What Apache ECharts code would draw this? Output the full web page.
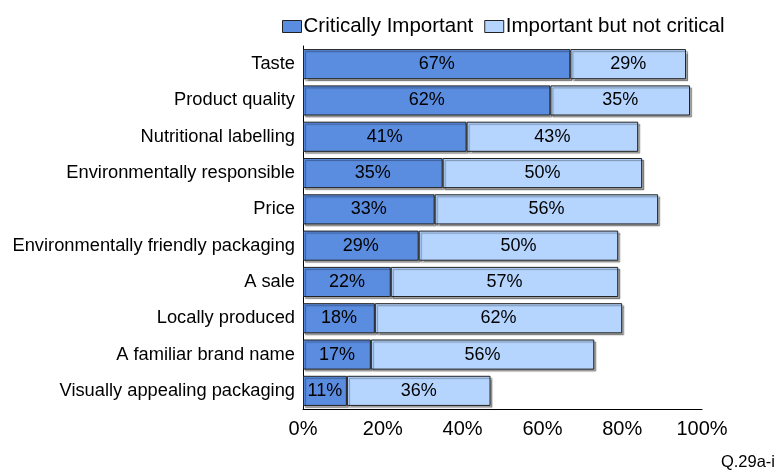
<!DOCTYPE html>
<html>
<head>
<meta charset="utf-8">
<script src="https://cdn.jsdelivr.net/npm/echarts@6/dist/echarts.min.js"></script>
<style>
  html, body { margin: 0; padding: 0; background: #fff; }
  #chart { width: 778px; height: 476px; }
</style>
</head>
<body>
<div id="chart"></div>
<script>
// Purchase factors, listed top to bottom
const categories = [
  'Taste',
  'Product quality',
  'Nutritional labelling',
  'Environmentally responsible',
  'Price',
  'Environmentally friendly packaging',
  'A sale',
  'Locally produced',
  'A familiar brand name',
  'Visually appealing packaging'
];
const criticallyImportant = [67, 62, 41, 35, 33, 29, 22, 18, 17, 11];
const importantNotCritical = [29, 35, 43, 50, 56, 50, 57, 62, 56, 36];
const seriesNames = ['Critically Important', 'Important but not critical'];
const footnote = 'Q.29a-i';

const font = 'Liberation Sans, Arial, sans-serif';
const chart = echarts.init(document.getElementById('chart'));

const barStyle = (color) => ({
  color: color,
  borderColor: '#222',
  borderWidth: 1,
  shadowColor: 'rgba(0,0,0,0.35)',
  shadowOffsetX: 2,
  shadowOffsetY: 2,
  shadowBlur: 1
});

const labelStyle = {
  show: true,
  position: 'inside',
  formatter: (p) => p.value + '%',
  color: '#000',
  fontFamily: font,
  fontSize: 18
};

chart.setOption({
  animation: false,
  legend: {
    top: 16,
    left: 282,
    padding: 0,
    itemWidth: 19,
    itemHeight: 12,
    itemGap: 11,
    textStyle: { fontFamily: font, fontSize: 20.5, color: '#000', padding: [0, 0, 0, -3] },
    data: seriesNames.map((n) => ({
      name: n,
      icon: 'rect',
      itemStyle: { borderColor: '#222', borderWidth: 1 }
    }))
  },
  grid: { left: 303, right: 76, top: 46, bottom: 67, containLabel: false },
  xAxis: {
    type: 'value',
    min: 0,
    max: 100,
    interval: 20,
    axisLine: { show: true, lineStyle: { color: '#000', width: 1 } },
    axisTick: { show: false },
    splitLine: { show: false },
    axisLabel: {
      formatter: '{value}%',
      fontFamily: font,
      fontSize: 20,
      color: '#000',
      margin: 10
    }
  },
  yAxis: {
    type: 'category',
    inverse: true,
    data: categories,
    axisLine: { show: true, lineStyle: { color: '#000', width: 1 } },
    axisTick: { show: false },
    axisLabel: { fontFamily: font, fontSize: 18.3, color: '#000', margin: 8 }
  },
  series: [
    {
      name: seriesNames[0],
      type: 'bar',
      stack: 'total',
      barCategoryGap: '17%',
      data: criticallyImportant,
      itemStyle: barStyle('#5A8CE0'),
      label: labelStyle
    },
    {
      name: seriesNames[1],
      type: 'bar',
      stack: 'total',
      data: importantNotCritical,
      itemStyle: barStyle('#B5D5FF'),
      label: labelStyle
    }
  ],
  graphic: [{
    type: 'text',
    right: 3,
    top: 454,
    style: { text: footnote, font: '16.5px ' + font, fill: '#000' }
  }]
});
</script>
</body>
</html>
